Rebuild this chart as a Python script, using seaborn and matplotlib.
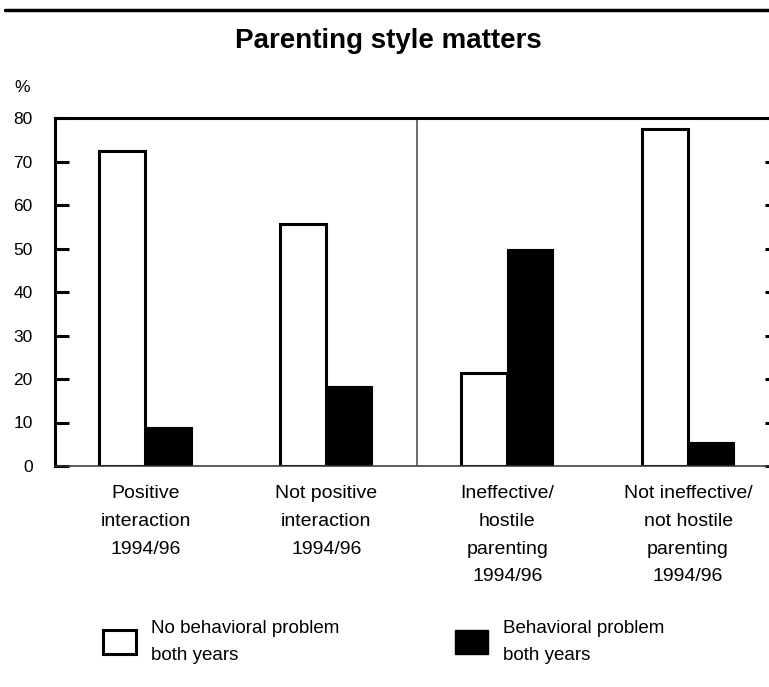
import pandas as pd
import seaborn as sns
import matplotlib.pyplot as plt
from matplotlib.lines import Line2D

# -------------------------
# Data
# -------------------------
categories = [
    "Positive\ninteraction\n1994/96",
    "Not positive\ninteraction\n1994/96",
    "Ineffective/\nhostile\nparenting\n1994/96",
    "Not ineffective/\nnot hostile\nparenting\n1994/96",
]
series_names = ["No behavioral problem\nboth years", "Behavioral problem\nboth years"]
no_problem = [72.5, 55.6, 21.4, 77.5]
problem = [9.0, 18.4, 49.9, 5.5]
y_ticks = [0, 10, 20, 30, 40, 50, 60, 70, 80]

df = pd.DataFrame({
    "category": categories * 2,
    "series": [series_names[0]] * 4 + [series_names[1]] * 4,
    "value": no_problem + problem,
})

sns.set_theme(style="white")
plt.rcParams["font.family"] = ["Liberation Sans", "DejaVu Sans"]
plt.rcParams["text.color"] = "black"
plt.rcParams["xtick.color"] = "black"
plt.rcParams["ytick.color"] = "black"
plt.rcParams["xtick.labelcolor"] = "black"
plt.rcParams["ytick.labelcolor"] = "black"

fig = plt.figure(figsize=(7.69, 6.87), dpi=100)
# axes extends a little past the right edge, as in the cropped original
ax = fig.add_axes([55 / 769, 221 / 687, 723.5 / 769, 348 / 687])

sns.barplot(data=df, x="category", y="value", hue="series",
            hue_order=series_names, order=categories,
            palette={series_names[0]: "white", series_names[1]: "black"},
            edgecolor="black", width=0.51, gap=0, ax=ax)

for patch in ax.containers[0]:
    patch.set_linewidth(2.2)
for patch in ax.containers[1]:
    patch.set_linewidth(0.8)

# divider between the two parenting measures
ax.axvline(1.5, ymin=0, ymax=1, color="#444444", linewidth=1.1)

ax.set_xlim(-0.5, 3.5)
ax.set_ylim(0, 80)
ax.set_yticks(y_ticks)
ax.set_yticklabels([str(t) for t in y_ticks], fontsize=12.5)
ax.set_xlabel("")
ax.set_ylabel("")

ax.tick_params(axis="y", direction="in", length=10, width=2.2, left=True,
               right=True, pad=16, colors="black")
ax.tick_params(axis="x", length=0, pad=14, labelsize=14, colors="black")
for lbl in ax.get_xticklabels():
    lbl.set_linespacing(1.82)
    lbl.set_verticalalignment("top")

for side in ["top", "left"]:
    ax.spines[side].set_linewidth(2.2)
    ax.spines[side].set_color("black")
ax.spines["bottom"].set_linewidth(1.1)
ax.spines["bottom"].set_color("#333333")
ax.spines["right"].set_visible(False)

# legend below the chart
sns.move_legend(ax, "upper left", bbox_to_anchor=(86 / 769, 1 - 603 / 687),
                bbox_transform=fig.transFigure, ncol=2, frameon=False,
                title=None, fontsize=13.5, handlelength=1.75, handleheight=1.6,
                handletextpad=0.8, columnspacing=6.2)
leg = ax.get_legend()
for h in leg.legend_handles:
    h.set_edgecolor("black")
leg.legend_handles[0].set_linewidth(2.2)
for t in leg.get_texts():
    t.set_linespacing(1.75)
    t.set_color("black")

# title, unit and top rule
fig.text(0.505, 1 - 41 / 687, "Parenting style matters", ha="center",
         va="center", fontsize=20, fontweight="bold", color="black")
fig.text(14 / 769, 1 - 88 / 687, "%", ha="left", va="center", fontsize=12.5,
         color="black")
fig.add_artist(Line2D([5 / 769, 1.0], [1 - 10 / 687, 1 - 10 / 687],
                      color="black", linewidth=2.5, transform=fig.transFigure))

fig.savefig("out.png", dpi=100)
